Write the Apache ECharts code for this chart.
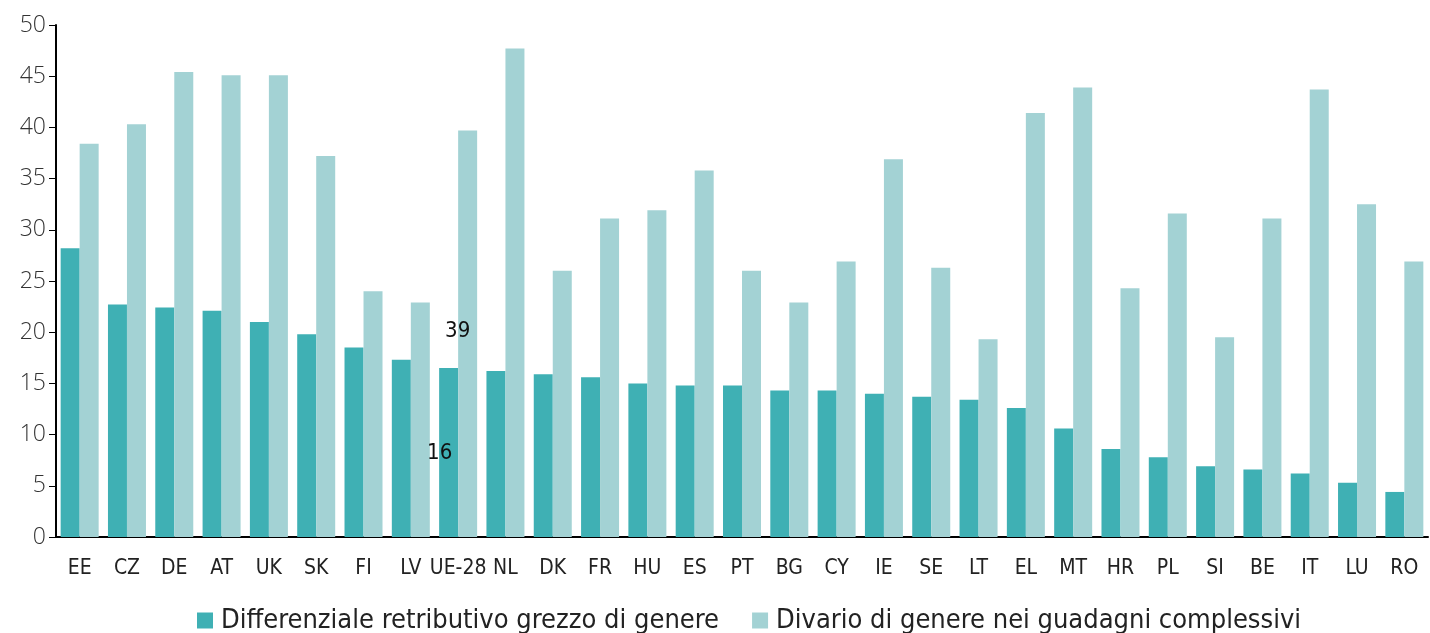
<!DOCTYPE html>
<html>
<head>
<meta charset="utf-8">
<script src="https://cdn.jsdelivr.net/npm/echarts@6/dist/echarts.min.js"></script>
<style>
  html, body { margin: 0; padding: 0; background: #fff; }
  #chart { width: 1430px; height: 633px; }
</style>
</head>
<body>
<div id="chart"></div>
<script>
  // paesi (asse x)
  const countries = ['EE', 'CZ', 'DE', 'AT', 'UK', 'SK', 'FI', 'LV', 'UE-28', 'NL', 'DK', 'FR', 'HU', 'ES', 'PT',
    'BG', 'CY', 'IE', 'SE', 'LT', 'EL', 'MT', 'HR', 'PL', 'SI', 'BE', 'IT', 'LU', 'RO']
  // differenziale retributivo grezzo
  const rawGap = [28.2, 22.7, 22.4, 22.1, 21.0, 19.8, 18.5, 17.3, 16.5, 16.2, 15.9, 15.6, 15.0, 14.8, 14.8,
    14.3, 14.3, 14.0, 13.7, 13.4, 12.6, 10.6, 8.6, 7.8, 6.9, 6.6, 6.2, 5.3, 4.4]
  // divario nei guadagni complessivi
  const overallGap = [38.4, 40.3, 45.4, 45.1, 45.1, 37.2, 24.0, 22.9, 39.7, 47.7, 26.0, 31.1, 31.9, 35.8, 26.0,
    22.9, 26.9, 36.9, 26.3, 19.3, 41.4, 43.9, 24.3, 31.6, 19.5, 31.1, 43.7, 32.5, 26.9]
  const seriesNames = ['Differenziale retributivo grezzo di genere', 'Divario di genere nei guadagni complessivi']
  // etichette sparse vicino a UE-28
  const notes = [{ cat: 'UE-28', y: 20.1, text: '39', dx: 9 }, { cat: 'UE-28', y: 8.2, text: '16', dx: -9 }]

  const chart = echarts.init(document.getElementById('chart'))
  const condensed = '"DejaVu Sans Condensed", sans-serif'

  chart.setOption({
    animation: false,
    color: ['#3fb0b4', '#a3d2d4'],
    grid: { left: 56, right: 2, top: 25, bottom: 96 },
    legend: {
      top: 602,
      left: 192,
      itemWidth: 16,
      itemHeight: 16,
      itemGap: 33,
      icon: 'rect',
      textStyle: { fontFamily: condensed, fontSize: 27, color: '#222', padding: [0, 0, 0, 3] },
      data: seriesNames
    },
    xAxis: {
      type: 'category',
      data: countries,
      axisTick: { show: false },
      axisLine: { lineStyle: { color: '#000', width: 2 } },
      axisLabel: { fontFamily: condensed, fontSize: 21, color: '#222', margin: 21, interval: 0 }
    },
    yAxis: {
      type: 'value',
      min: 0,
      max: 50,
      interval: 5,
      splitLine: { show: false },
      axisLine: { show: true, lineStyle: { color: '#000', width: 2 } },
      axisTick: { show: true, length: 7, lineStyle: { color: '#000' } },
      axisLabel: { fontFamily: 'Open Sans', fontWeight: 300, fontSize: 23, color: '#333', margin: 10 }
    },
    series: [
      {
        name: seriesNames[0],
        type: 'bar',
        barWidth: 19,
        barGap: '0%',
        data: rawGap,
        markPoint: {
          symbol: 'rect',
          symbolSize: 1,
          itemStyle: { color: 'transparent' },
          label: { show: true, fontFamily: condensed, fontSize: 22, color: '#111', position: 'inside' },
          data: notes.map(n => ({ coord: [n.cat, n.y], value: n.text, label: { offset: [n.dx, 0] } }))
        }
      },
      {
        name: seriesNames[1],
        type: 'bar',
        barWidth: 19,
        data: overallGap
      }
    ]
  })
</script>
</body>
</html>
